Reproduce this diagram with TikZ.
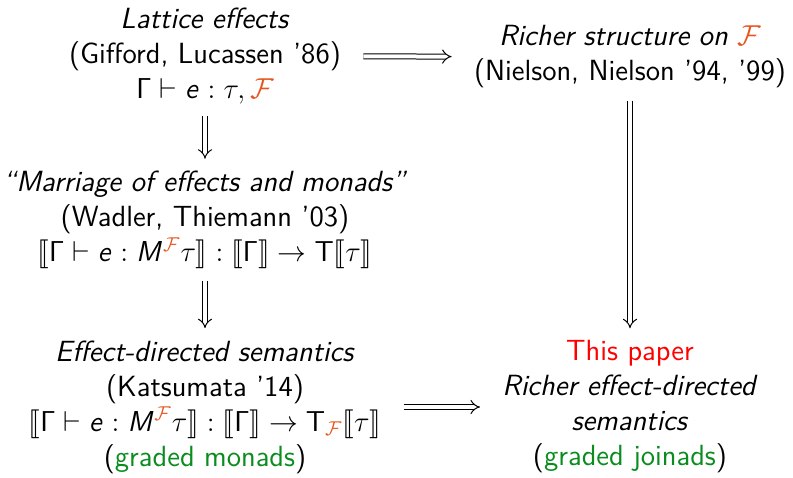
\documentclass[tikz,border=0pt]{standalone}
\usepackage{stmaryrd}
\usetikzlibrary{arrows.meta}
\renewcommand{\familydefault}{\sfdefault}
\DeclareMathAlphabet{\mathsfit}{OT1}{cmss}{m}{sl}
\definecolor{effcol}{RGB}{230,85,30}
\definecolor{gradcol}{RGB}{10,140,30}
\newcommand{\Eff}{\textcolor{effcol}{\mathcal{F}}}
\begin{document}
\begin{tikzpicture}[
    x=0.5pt,
    y=-0.5pt,
    cell/.style={
        font=\fontsize{14.6}{17.5}\selectfont,
        align=center,
        inner sep=2pt
    },
    derives/.style={
        double,
        double distance=2pt,
        line width=0.5pt,
        -{Implies[length=3pt]},
        shorten >=4pt,
        shorten <=4pt
    }
]
\useasboundingbox (0,0) rectangle (793,477);

% Horizontal positions of the two columns
\def\LeftX{205}
\def\RightX{630}

% ==================================================
% Left column
% ==================================================

\node[cell] (lattice) at (\LeftX,56)
    {\textit{Lattice effects}\\
     (Gifford, Lucassen '86)\\
     $\mathsf{\Gamma}\vdash\mathsfit{e}:\tau,\Eff$};

\node[cell] (marriage) at (\LeftX,220)
    {\textit{``Marriage of effects and monads''}\\
     (Wadler, Thiemann '03)\\
     $\llbracket\mathsf{\Gamma}\vdash\mathsfit{e}:\mathsfit{M}^{\Eff}\tau\rrbracket
      :\llbracket\mathsf{\Gamma}\rrbracket\to\mathsf{T}\llbracket\tau\rrbracket$};

\node[cell] (katsumata) at (\LeftX,407)
    {\textit{Effect-directed semantics}\\
     (Katsumata '14)\\
     $\llbracket\mathsf{\Gamma}\vdash\mathsfit{e}:\mathsfit{M}^{\Eff}\tau\rrbracket
      :\llbracket\mathsf{\Gamma}\rrbracket\to\mathsf{T}_{\Eff}\llbracket\tau\rrbracket$\\
     (\textcolor{gradcol}{graded monads})};

% ==================================================
% Right column
% ==================================================

\node[cell] (richer) at (\RightX,57)
    {\textit{Richer structure on} $\Eff$\\
     (Nielson, Nielson '94, '99)};

\node[cell] (paper) at (\RightX,407)
    {\textcolor{red}{This paper}\\
     \textit{Richer effect-directed}\\
     \textit{semantics}\\
     (\textcolor{gradcol}{graded joinads})};

% ==================================================
% Implications
% ==================================================

\draw[derives] (lattice) -- (marriage);
\draw[derives] (marriage) -- (katsumata);
\draw[derives] (richer) -- (paper);
\draw[derives, shorten >=9pt, shorten <=9pt] (lattice) -- (richer);
\draw[derives, shorten >=9pt, shorten <=9pt] (katsumata) -- (paper);

\end{tikzpicture}
\end{document}
